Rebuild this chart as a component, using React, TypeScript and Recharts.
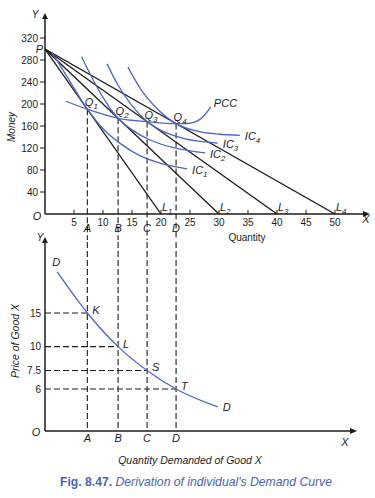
import React from 'react';
import { ComposedChart, Line, XAxis, YAxis, ReferenceLine, ReferenceDot } from 'recharts';

// ---------- data ----------
const moneyIncome = 300;
const budgetIntercepts = [20, 30, 40, 50];
const budgetNames = ['1', '2', '3', '4'];
const equilibriumQty = [7.3, 12.6, 17.6, 22.6];
const qtyLetters = ['A', 'B', 'C', 'D'];
const moneyTicks = [40, 80, 120, 160, 200, 240, 280, 320];
const qtyTicks = [5, 10, 15, 20, 25, 30, 35, 40, 45, 50];

const ic1 = [
  { x: 1.2, y: 294 }, { x: 4, y: 246 }, { x: 7.3, y: 190.5 }, { x: 10, y: 155 },
  { x: 13, y: 128 }, { x: 16, y: 108 }, { x: 20, y: 92 }, { x: 24.5, y: 82 },
];
const ic2 = [
  { x: 6.3, y: 286 }, { x: 8, y: 250 }, { x: 10, y: 212 }, { x: 12.6, y: 174 },
  { x: 15, y: 153 }, { x: 18, y: 135 }, { x: 22, y: 121 }, { x: 27.6, y: 111 },
];
const ic3 = [
  { x: 10.7, y: 273 }, { x: 12.5, y: 236 }, { x: 15, y: 197 }, { x: 17.6, y: 168 },
  { x: 20, y: 152 }, { x: 24, y: 137 }, { x: 29.8, y: 129 },
];
const ic4 = [
  { x: 14.3, y: 267 }, { x: 16.5, y: 227 }, { x: 19, y: 195 }, { x: 22.6, y: 164.4 },
  { x: 26, y: 151 }, { x: 30, y: 145 }, { x: 33.6, y: 143 },
];
const indifferenceCurves = [ic1, ic2, ic3, ic4];
const pcc = [
  { x: 3.6, y: 205 }, { x: 7.3, y: 190.5 }, { x: 12.6, y: 174 }, { x: 17.6, y: 168 },
  { x: 22.6, y: 164.4 }, { x: 24.6, y: 164.6 }, { x: 26.7, y: 172 }, { x: 28.6, y: 195 },
];

const prices = [15, 10, 7.5, 6];
const demandLetters = ['K', 'L', 'S', 'T'];
const demandCurve = [
  { x: 2.1, y: 24.6 }, { x: 7.3, y: 15 }, { x: 12.6, y: 10 }, { x: 17.6, y: 7.5 },
  { x: 22.6, y: 6 }, { x: 29.8, y: 4.83 },
];

// ---------- derived ----------
const budgetLines = budgetIntercepts.map((q) => [
  { x: 0, y: moneyIncome },
  { x: q, y: 0 },
]);
const eqMoney = equilibriumQty.map((q, i) => moneyIncome * (1 - q / budgetIntercepts[i]));

// ---------- style ----------
const BLUE = '#4d66c6';
const INK = '#1c1c1c';
const FONT = '"Liberation Sans", Arial, Helvetica, sans-serif';
const TOP_X_MAX = 54.83;
const TOP_Y_MAX = 356.4;
const BOT_X_MAX = 52.59;
const BOT_Y_MIN = 3.615;
const BOT_Y_MAX = 35.3;

const SubText = ({ x, y, main, sub, size = 11, anchor = 'start' }: any) => (
  <text x={x} y={y} fontSize={size} fontStyle="italic" textAnchor={anchor} fill={INK} fontFamily={FONT}>
    {main}
    {sub ? (
      <tspan fontSize={size * 0.72} dy={size * 0.28}>
        {sub}
      </tspan>
    ) : null}
  </text>
);

const textShape = (main: string, sub: string, dx: number, dy: number, size = 11, anchor = 'start') =>
  (p: any) => <SubText x={p.cx + dx} y={p.cy + dy} main={main} sub={sub} size={size} anchor={anchor} />;

const arrowUp = (p: any) => (
  <polygon points={`${p.cx},${p.cy - 5} ${p.cx - 3},${p.cy + 1} ${p.cx + 3},${p.cy + 1}`} fill={INK} />
);
const arrowRight = (p: any) => (
  <polygon points={`${p.cx + 7},${p.cy} ${p.cx},${p.cy - 3} ${p.cx},${p.cy + 3}`} fill={INK} />
);

const QtyTick = (props: any) => {
  const { x, y, payload } = props;
  return (
    <g>
      <line x1={x} x2={x} y1={y - 5} y2={y - 9} stroke={INK} strokeWidth={1} />
      <text x={x} y={y} dy="0.72em" textAnchor="middle" fontSize={10} fill={INK} fontFamily={FONT}>
        {payload.value}
      </text>
    </g>
  );
};

const TopChart = () => (
  <ComposedChart width={375} height={250} margin={{ top: 18, right: 12, left: 0, bottom: 0 }}>
    <XAxis
      type="number"
      dataKey="x"
      domain={[0, TOP_X_MAX]}
      allowDataOverflow
      ticks={qtyTicks}
      interval={0}
      tickSize={0}
      tickMargin={5}
      tickLine={false}
      tick={<QtyTick />}
      axisLine={{ stroke: INK, strokeWidth: 1.5 }}
      height={36}
    />
    <YAxis
      type="number"
      dataKey="y"
      domain={[0, TOP_Y_MAX]}
      allowDataOverflow
      ticks={moneyTicks}
      interval={0}
      width={45}
      tickSize={5}
      tickMargin={2}
      tick={{ fontSize: 10, fill: INK, fontFamily: FONT }}
      tickLine={{ stroke: INK }}
      axisLine={{ stroke: INK, strokeWidth: 1.5 }}
    />
    {equilibriumQty.map((q, i) => (
      <ReferenceLine
        key={'v' + i}
        segment={[{ x: q, y: eqMoney[i] }, { x: q, y: -47.3 }]}
        stroke={INK}
        strokeWidth={1.1}
        strokeDasharray="6 3"
        ifOverflow="visible"
      />
    ))}
    {budgetLines.map((d, i) => (
      <Line
        key={'b' + i}
        data={d}
        dataKey="y"
        type="linear"
        stroke={INK}
        strokeWidth={1.3}
        dot={false}
        isAnimationActive={false}
      />
    ))}
    {indifferenceCurves.map((d, i) => (
      <Line
        key={'ic' + i}
        data={d}
        dataKey="y"
        type="monotone"
        stroke={BLUE}
        strokeWidth={1.3}
        dot={false}
        isAnimationActive={false}
      />
    ))}
    <Line data={pcc} dataKey="y" type="monotone" stroke={BLUE} strokeWidth={1.3} dot={false} isAnimationActive={false} />
    {/* labels */}
    <ReferenceDot x={0} y={moneyIncome} r={0} ifOverflow="visible" shape={textShape('P', '', -2, 4, 11, 'end')} />
    {equilibriumQty.map((q, i) => (
      <ReferenceDot key={'q' + i} x={q} y={eqMoney[i]} r={0} ifOverflow="visible" shape={textShape('Q', budgetNames[i], 4, -3, 11, 'middle')} />
    ))}
    {budgetIntercepts.map((q, i) => (
      <ReferenceDot key={'l' + i} x={q} y={0} r={0} ifOverflow="visible" shape={textShape('L', budgetNames[i], 1, -3, 11)} />
    ))}
    {indifferenceCurves.map((d, i) => (
      <ReferenceDot key={'icl' + i} x={d[d.length - 1].x} y={d[d.length - 1].y} r={0} ifOverflow="visible" shape={textShape('IC', budgetNames[i], 5, 5, 11)} />
    ))}
    <ReferenceDot x={pcc[pcc.length - 1].x} y={pcc[pcc.length - 1].y} r={0} ifOverflow="visible" shape={textShape('PCC', '', 3, 0, 11)} />
    {equilibriumQty.map((q, i) => (
      <ReferenceDot key={'ql' + i} x={q} y={0} r={0} ifOverflow="visible" shape={textShape(qtyLetters[i], '', 0, 18, 11, 'middle')} />
    ))}
    <ReferenceDot x={0} y={TOP_Y_MAX} r={0} ifOverflow="visible" shape={arrowUp} />
    <ReferenceDot x={TOP_X_MAX} y={0} r={0} ifOverflow="visible" shape={arrowRight} />
  </ComposedChart>
);

const BottomChart = () => (
  <ComposedChart width={375} height={268} margin={{ top: 12, right: 25, left: 0, bottom: 0 }}>
    <XAxis
      type="number"
      dataKey="x"
      domain={[0, BOT_X_MAX]}
      allowDataOverflow
      ticks={equilibriumQty}
      interval={0}
      tickFormatter={(v: number) => qtyLetters[equilibriumQty.indexOf(v)]}
      tickSize={0}
      tickMargin={3}
      tickLine={false}
      tick={{ fontSize: 11, fill: INK, fontStyle: 'italic', fontFamily: FONT }}
      axisLine={{ stroke: INK, strokeWidth: 1.5 }}
      height={67}
    />
    <YAxis
      type="number"
      dataKey="y"
      scale="log"
      domain={[BOT_Y_MIN, BOT_Y_MAX]}
      allowDataOverflow
      ticks={prices}
      interval={0}
      width={45}
      tickSize={0}
      tickMargin={4}
      tickLine={false}
      tick={{ fontSize: 10, fill: INK, fontFamily: FONT }}
      axisLine={{ stroke: INK, strokeWidth: 1.5 }}
    />
    {equilibriumQty.map((q, i) => (
      <ReferenceLine
        key={'bv' + i}
        segment={[{ x: q, y: BOT_Y_MAX }, { x: q, y: BOT_Y_MIN }]}
        stroke={INK}
        strokeWidth={1.1}
        strokeDasharray="6 3"
        ifOverflow="visible"
      />
    ))}
    {prices.map((p, i) => (
      <ReferenceLine
        key={'bh' + i}
        segment={[{ x: 0, y: p }, { x: equilibriumQty[i], y: p }]}
        stroke={INK}
        strokeWidth={1.1}
        strokeDasharray="6 3"
        ifOverflow="visible"
      />
    ))}
    <Line data={demandCurve} dataKey="y" type="monotone" stroke={BLUE} strokeWidth={1.3} dot={false} isAnimationActive={false} />
    {equilibriumQty.map((q, i) => (
      <ReferenceDot key={'k' + i} x={q} y={prices[i]} r={0} ifOverflow="visible" shape={textShape(demandLetters[i], '', 5, 1, 11)} />
    ))}
    <ReferenceDot x={demandCurve[0].x} y={demandCurve[0].y} r={0} ifOverflow="visible" shape={textShape('D', '', -1, -6, 11, 'middle')} />
    <ReferenceDot x={demandCurve[demandCurve.length - 1].x} y={demandCurve[demandCurve.length - 1].y} r={0} ifOverflow="visible" shape={textShape('D', '', 5, 4, 11)} />
    <ReferenceDot x={0} y={BOT_Y_MAX} r={0} ifOverflow="visible" shape={arrowUp} />
    <ReferenceDot x={BOT_X_MAX} y={BOT_Y_MIN} r={0} ifOverflow="visible" shape={arrowRight} />
  </ComposedChart>
);

export default function App() {
  return (
    <div style={{ position: 'absolute', left: 0, top: 0, width: 375, height: 498, background: '#fff', fontFamily: FONT, overflow: 'hidden' }}>
      <div style={{ position: 'absolute', left: 0, top: 0 }}>
        <TopChart />
      </div>
      <div style={{ position: 'absolute', left: 0, top: 230 }}>
        <BottomChart />
      </div>
      <svg width={375} height={498} style={{ position: 'absolute', left: 0, top: 0, pointerEvents: 'none' }}>
        <g fontFamily={FONT} fill={INK}>
          <text x={35} y={18} fontSize={10} fontStyle="italic" textAnchor="middle">Y</text>
          <text x={37} y={220} fontSize={11} fontStyle="italic" textAnchor="middle">O</text>
          <text x={366} y={223} fontSize={11} fontStyle="italic" textAnchor="middle">X</text>
          <text x={0} y={0} fontSize={10} fontStyle="italic" textAnchor="middle" transform="translate(15,127) rotate(-90)">Money</text>
          <text x={247} y={241} fontSize={10} textAnchor="middle">Quantity</text>
          <text x={40} y={241} fontSize={10} fontStyle="italic" textAnchor="middle">Y</text>
          <text x={36} y={436} fontSize={11} fontStyle="italic" textAnchor="middle">O</text>
          <text x={345} y={446} fontSize={11} fontStyle="italic" textAnchor="middle">X</text>
          <text x={0} y={0} fontSize={10.5} fontStyle="italic" textAnchor="middle" transform="translate(19,341) rotate(-90)">Price of Good X</text>
          <text x={190} y={464} fontSize={10.5} fontStyle="italic" textAnchor="middle">Quantity Demanded of Good X</text>
        </g>
        <text x={60} y={486} fontSize={12.2} fill="#4a63b5" fontFamily={FONT}>
          <tspan fontWeight="bold">Fig. 8.47.</tspan>
          <tspan fontStyle="italic"> Derivation  of individual's Demand Curve</tspan>
        </text>
      </svg>
    </div>
  );
}
